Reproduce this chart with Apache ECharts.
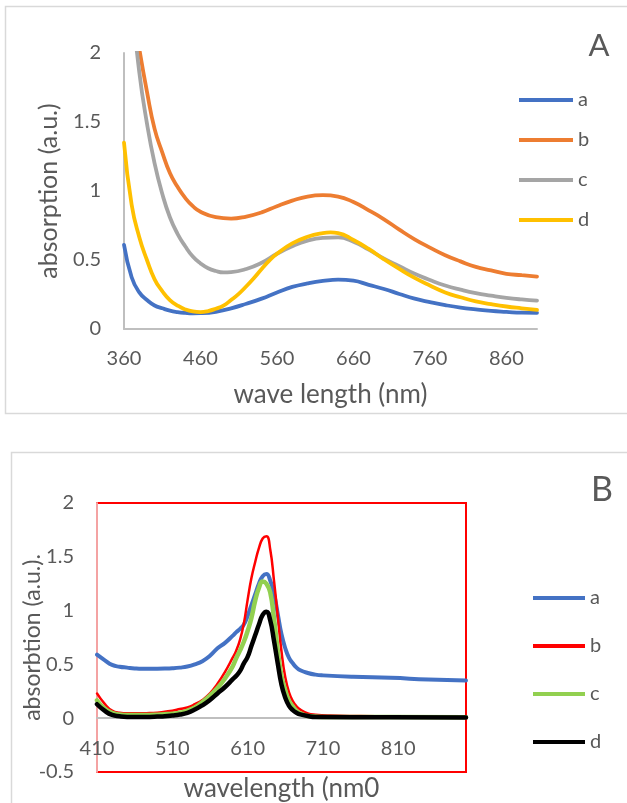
<!DOCTYPE html>
<html>
<head>
<meta charset="utf-8">
<script src="https://cdn.jsdelivr.net/npm/echarts@6/dist/echarts.min.js"></script>
<style>
html,body{margin:0;padding:0;background:#fff;}
#chart{width:627px;height:803px;}
</style>
</head>
<body>
<div id="chart"></div>
<script>
// ---------- Panel A data (wavelength nm, absorption) ----------
const A_names = ['a', 'b', 'c', 'd'];
const A_xTicks = [360, 460, 560, 660, 760, 860];
const A_a = [[360,0.61],[370,0.375],[380,0.265],[390,0.21],[400,0.17],[410,0.15],[420,0.133],[430,0.123],[440,0.117],[450,0.114],[460,0.115],[480,0.125],[500,0.15],[520,0.183],[540,0.22],[560,0.265],[580,0.305],[600,0.33],[620,0.348],[640,0.358],[660,0.35],[680,0.32],[700,0.29],[720,0.254],[740,0.22],[760,0.195],[780,0.173],[800,0.155],[820,0.142],[840,0.131],[860,0.124],[880,0.118],[900,0.117]];
const A_b = [[380,2.03],[390,1.72],[400,1.45],[410,1.28],[420,1.13],[430,1.03],[440,0.95],[450,0.89],[460,0.85],[480,0.81],[500,0.80],[520,0.815],[540,0.845],[560,0.89],[580,0.93],[600,0.96],[620,0.97],[640,0.96],[660,0.92],[680,0.86],[700,0.795],[720,0.72],[740,0.65],[760,0.59],[780,0.535],[800,0.49],[820,0.45],[840,0.425],[860,0.40],[880,0.39],[900,0.38]];
const A_c = [[370,2.4],[380,1.86],[390,1.49],[400,1.20],[410,0.98],[420,0.81],[430,0.69],[440,0.60],[450,0.525],[460,0.475],[470,0.44],[480,0.42],[490,0.41],[500,0.412],[520,0.435],[540,0.48],[560,0.545],[580,0.60],[600,0.64],[620,0.66],[640,0.664],[660,0.633],[680,0.575],[700,0.51],[720,0.455],[740,0.40],[760,0.355],[780,0.315],[800,0.285],[820,0.26],[840,0.242],[860,0.226],[880,0.214],[900,0.205]];
const A_d = [[360,1.35],[370,0.90],[380,0.665],[390,0.50],[400,0.36],[410,0.275],[420,0.21],[430,0.17],[440,0.142],[450,0.127],[460,0.123],[470,0.13],[480,0.147],[490,0.17],[500,0.21],[510,0.255],[520,0.31],[530,0.37],[540,0.435],[550,0.495],[560,0.545],[580,0.62],[600,0.668],[620,0.695],[630,0.70],[640,0.695],[660,0.645],[680,0.58],[700,0.505],[720,0.435],[740,0.37],[760,0.315],[780,0.265],[800,0.23],[820,0.2],[840,0.18],[860,0.163],[880,0.15],[900,0.138]];

// ---------- Panel B data ----------
const B_names = ['a', 'b', 'c', 'd'];
const B_xTicks = [410, 510, 610, 710, 810];
const B_a = [[410,0.59],[420,0.54],[430,0.495],[440,0.478],[450,0.47],[460,0.463],[470,0.46],[480,0.46],[490,0.46],[500,0.461],[510,0.464],[520,0.47],[530,0.48],[540,0.50],[550,0.53],[560,0.58],[570,0.65],[580,0.70],[590,0.765],[595,0.80],[600,0.83],[605,0.87],[610,0.95],[615,1.05],[620,1.15],[625,1.25],[630,1.32],[635,1.34],[640,1.28],[645,1.16],[650,0.97],[655,0.78],[660,0.65],[665,0.56],[670,0.51],[675,0.47],[680,0.445],[690,0.42],[700,0.405],[710,0.398],[750,0.385],[800,0.375],[850,0.36],[900,0.35]];
const B_b = [[410,0.23],[420,0.135],[430,0.07],[440,0.05],[450,0.045],[460,0.045],[470,0.045],[480,0.048],[490,0.05],[500,0.06],[510,0.07],[520,0.085],[530,0.10],[540,0.13],[550,0.17],[560,0.23],[570,0.32],[580,0.43],[590,0.56],[595,0.63],[600,0.73],[605,0.88],[610,1.10],[615,1.30],[620,1.45],[625,1.58],[630,1.67],[635,1.69],[640,1.57],[645,1.28],[650,0.95],[655,0.62],[660,0.38],[665,0.24],[670,0.16],[675,0.11],[680,0.08],[690,0.045],[700,0.033],[720,0.025],[760,0.02],[800,0.015],[850,0.012],[900,0.01]];
const B_c = [[410,0.165],[420,0.09],[430,0.05],[440,0.035],[450,0.03],[460,0.03],[470,0.03],[480,0.03],[490,0.033],[500,0.037],[510,0.042],[520,0.05],[530,0.07],[540,0.10],[550,0.15],[560,0.21],[570,0.28],[580,0.37],[590,0.48],[595,0.56],[600,0.63],[605,0.71],[610,0.81],[615,0.93],[620,1.09],[625,1.21],[630,1.27],[635,1.25],[640,1.17],[645,0.93],[650,0.63],[655,0.39],[660,0.26],[665,0.16],[670,0.11],[675,0.065],[680,0.045],[690,0.02],[710,0.012],[800,0.01],[900,0.008]];
const B_d = [[410,0.13],[420,0.07],[430,0.03],[440,0.018],[450,0.012],[460,0.011],[470,0.011],[480,0.012],[490,0.015],[500,0.018],[510,0.025],[520,0.034],[530,0.05],[540,0.08],[550,0.12],[560,0.17],[570,0.23],[580,0.29],[590,0.36],[595,0.395],[600,0.44],[605,0.51],[610,0.57],[615,0.67],[620,0.77],[625,0.87],[630,0.96],[635,0.99],[640,0.91],[645,0.72],[650,0.51],[655,0.31],[660,0.19],[665,0.115],[670,0.075],[675,0.05],[680,0.035],[690,0.02],[700,0.012],[800,0.008],[900,0.006]];

const A_colors = ['#4472C4', '#ED7D31', '#A5A5A5', '#FFC000'];
const B_colors = ['#4472C4', '#FF0000', '#92D050', '#000000'];
const A_widths = [3.8, 3.8, 3.8, 3.8];
const B_widths = [4, 2.5, 4.5, 4.5];

const FONT = 'Lato';
const TXT = '#595959';
const AXIS = '#BFBFBF';

const chart = echarts.init(document.getElementById('chart'), null, {renderer: 'canvas'});

function mkSeries(prefix, names, datas, colors, widths, axisIdx) {
  return names.map((n, i) => ({
    name: prefix + n,
    type: 'line',
    xAxisIndex: axisIdx,
    yAxisIndex: axisIdx,
    data: datas[i],
    smooth: 0.5,
    symbol: 'none',
    clip: true,
    lineStyle: {color: colors[i], width: widths[i], cap: 'round', join: 'round'},
    itemStyle: {color: colors[i]},
    emphasis: {disabled: true},
    z: 2 + i
  }));
}

function mkLegendData(prefix, names, colors) {
  return names.map((n, i) => ({name: prefix + n, icon: 'rect', itemStyle: {color: colors[i], borderWidth: 0}}));
}

const option = {
  animation: false,
  backgroundColor: '#fff',
  textStyle: {fontFamily: FONT, color: TXT},
  graphic: [
    {type: 'rect', shape: {x: 5.5, y: 6.5, width: 700, height: 407}, style: {fill: 'none', stroke: '#D9D9D9', lineWidth: 1.5}, z: -1},
    {type: 'rect', shape: {x: 11.5, y: 452.5, width: 700, height: 400}, style: {fill: 'none', stroke: '#D9D9D9', lineWidth: 1.5}, z: -1},
    {type: 'text', style: {text: 'A', x: 599, y: 46, textAlign: 'center', textVerticalAlign: 'middle', font: '31px Lato', fill: TXT}},
    {type: 'text', style: {text: 'B', x: 602, y: 490, textAlign: 'center', textVerticalAlign: 'middle', font: '34px Lato', fill: TXT}}
  ],
  grid: [
    {left: 124, top: 53, width: 413, height: 276, containLabel: false, outerBoundsMode: 'none', show: false},
    {left: 97, top: 503, width: 369, height: 269, containLabel: false, outerBoundsMode: 'none', show: true, borderColor: '#FF0000', borderWidth: 2, backgroundColor: 'transparent'}
  ],
  legend: [
    {
      orient: 'vertical', left: 514, top: 85, itemWidth: 54, itemHeight: 4, itemGap: 20,
      data: mkLegendData('A:', A_names, A_colors),
      formatter: name => name.split(':')[1],
      textStyle: {fontFamily: FONT, fontSize: 20, color: TXT},
      selectedMode: false
    },
    {
      orient: 'vertical', left: 528, top: 583, itemWidth: 52, itemHeight: 4, itemGap: 28,
      data: mkLegendData('B:', B_names, B_colors),
      formatter: name => name.split(':')[1],
      textStyle: {fontFamily: FONT, fontSize: 20, color: TXT},
      selectedMode: false
    }
  ],
  xAxis: [
    {
      gridIndex: 0, type: 'value', min: 360, max: 900,
      name: 'wave length (nm)', nameLocation: 'middle', nameGap: 53, nameMoveOverlap: false,
      nameTextStyle: {fontFamily: FONT, fontSize: 26, color: TXT},
      axisLine: {show: true, lineStyle: {color: AXIS, width: 2}},
      axisTick: {show: false},
      splitLine: {show: false},
      axisLabel: {customValues: A_xTicks, fontFamily: FONT, fontSize: 20, color: TXT, margin: 20}
    },
    {
      gridIndex: 1, type: 'value', min: 410, max: 900,
      position: 'bottom', offset: -54,
      name: 'wavelength (nm0', nameLocation: 'middle', nameGap: 58, nameMoveOverlap: false,
      nameTextStyle: {fontFamily: FONT, fontSize: 26, color: TXT},
      axisLine: {show: true, onZero: false, lineStyle: {color: AXIS, width: 2}},
      axisTick: {show: false},
      splitLine: {show: false},
      axisLabel: {customValues: B_xTicks, fontFamily: FONT, fontSize: 20, color: TXT, margin: 21}
    }
  ],
  yAxis: [
    {
      gridIndex: 0, type: 'value', min: 0, max: 2, interval: 0.5,
      name: 'absorption (a.u.)', nameLocation: 'middle', nameGap: 63, nameMoveOverlap: false,
      nameTextStyle: {fontFamily: FONT, fontSize: 25, color: TXT},
      axisLine: {show: true, lineStyle: {color: AXIS, width: 2}},
      axisTick: {show: false},
      splitLine: {show: false},
      axisLabel: {fontFamily: FONT, fontSize: 20, color: TXT, margin: 23}
    },
    {
      gridIndex: 1, type: 'value', min: -0.5, max: 2, interval: 0.5,
      name: 'absorbtion (a.u.).', nameLocation: 'middle', nameGap: 53, nameMoveOverlap: false,
      nameTextStyle: {fontFamily: FONT, fontSize: 23, color: TXT},
      axisLine: {show: true, lineStyle: {color: '#F4A3A3', width: 2}},
      axisTick: {show: false},
      splitLine: {show: false},
      axisLabel: {fontFamily: FONT, fontSize: 20, color: TXT, margin: 23}
    }
  ],
  series: [
    ...mkSeries('A:', A_names, [A_a, A_b, A_c, A_d], A_colors, A_widths, 0),
    ...mkSeries('B:', B_names, [B_a, B_b, B_c, B_d], B_colors, B_widths, 1)
  ]
};
chart.setOption(option);
</script>
</body>
</html>
